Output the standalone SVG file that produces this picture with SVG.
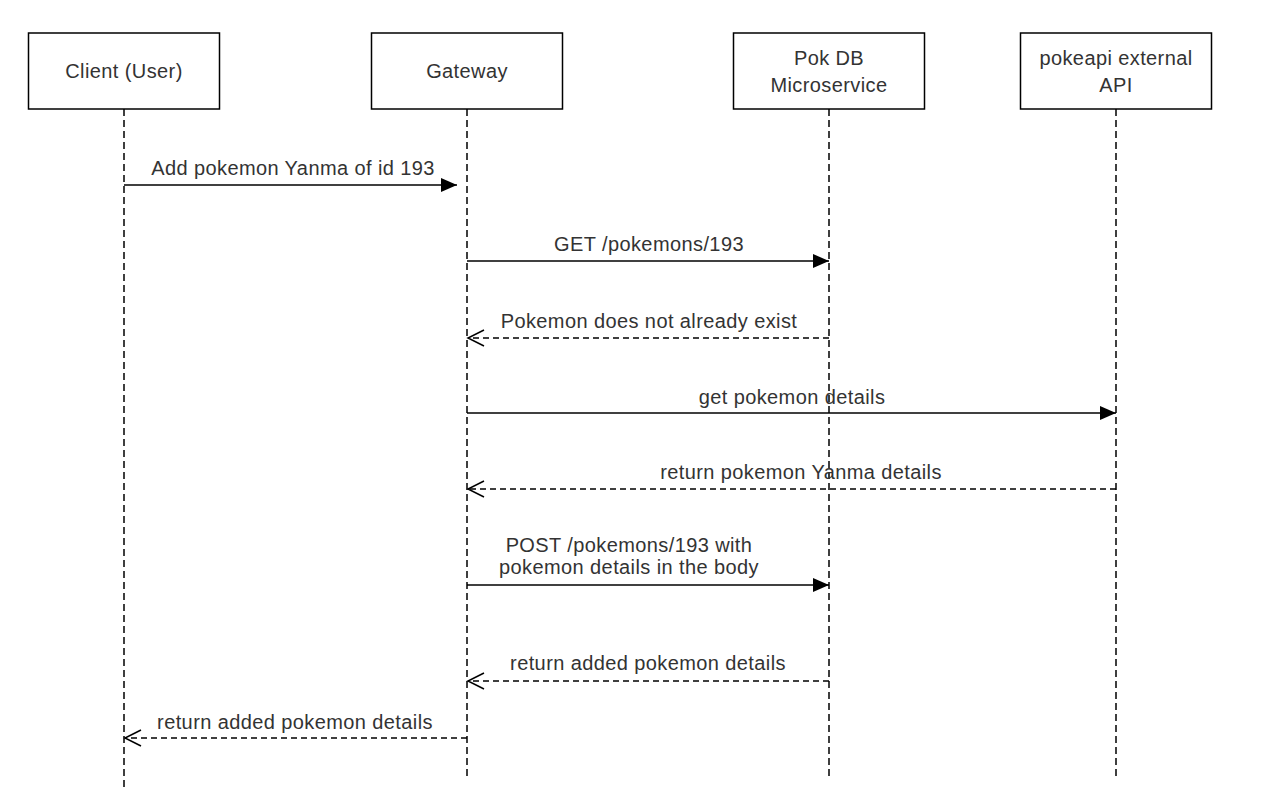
<svg xmlns="http://www.w3.org/2000/svg" width="1264" height="812" viewBox="0 0 1264 812">
  <defs>
    <style>
      .box { fill: #ffffff; stroke: #000000; stroke-width: 1.5; }
      .life { stroke: #000000; stroke-width: 1.5; stroke-dasharray: 7 4; fill: none; }
      .msg { stroke: #000000; stroke-width: 1.5; fill: none; }
      .ret { stroke: #000000; stroke-width: 1.5; fill: none; stroke-dasharray: 6 4; }
      .lbl { font-family: "Liberation Sans", Arial, sans-serif; font-size: 20px; fill: #333333; text-anchor: middle; letter-spacing: 0.4px; }
    </style>
    <marker id="filled" markerUnits="userSpaceOnUse" markerWidth="17" markerHeight="15" refX="16" refY="7" orient="auto" overflow="visible">
      <path d="M0,0 L16,7 L0,14 Z" fill="#000000"/>
    </marker>
    <marker id="open" markerUnits="userSpaceOnUse" markerWidth="18" markerHeight="18" refX="16" refY="8" orient="auto" overflow="visible">
      <path d="M0,0 L16,8 L0,16" fill="none" stroke="#000000" stroke-width="1.5"/>
    </marker>
  </defs>
  <rect width="1264" height="812" fill="#ffffff"/>

  <g id="client">
    <line class="life" x1="124" y1="109" x2="124" y2="790"/>
    <rect class="box" x="28.5" y="33" width="191" height="76"/>
    <text class="lbl" x="124" y="78">Client (User)</text>
  </g>
  <g id="gateway">
    <line class="life" x1="467" y1="109" x2="467" y2="776"/>
    <rect class="box" x="371.5" y="33" width="191" height="76"/>
    <text class="lbl" x="467" y="78">Gateway</text>
  </g>
  <g id="pokdb">
    <line class="life" x1="829" y1="109" x2="829" y2="776"/>
    <rect class="box" x="733.5" y="33" width="191" height="76"/>
    <text class="lbl" x="829" y="65">Pok DB</text>
    <text class="lbl" x="829" y="92">Microservice</text>
  </g>
  <g id="pokeapi">
    <line class="life" x1="1116" y1="109" x2="1116" y2="776"/>
    <rect class="box" x="1020.5" y="33" width="191" height="76"/>
    <text class="lbl" x="1116" y="65">pokeapi external</text>
    <text class="lbl" x="1116" y="92">API</text>
  </g>

  <g id="connectors">
    <line class="msg" x1="124" y1="185" x2="457" y2="185" marker-end="url(#filled)"/>
    <text class="lbl" x="293" y="175">Add pokemon Yanma of id 193</text>

    <line class="msg" x1="467" y1="261" x2="829" y2="261" marker-end="url(#filled)"/>
    <text class="lbl" x="649" y="251">GET /pokemons/193</text>

    <line class="ret" x1="829" y1="338" x2="468" y2="338" marker-end="url(#open)"/>
    <text class="lbl" x="649" y="328">Pokemon does not already exist</text>

    <line class="msg" x1="467" y1="413" x2="1116" y2="413" marker-end="url(#filled)"/>
    <text class="lbl" x="792" y="404">get pokemon details</text>

    <line class="ret" x1="1116" y1="489" x2="468" y2="489" marker-end="url(#open)"/>
    <text class="lbl" x="801" y="479">return pokemon Yanma details</text>

    <line class="msg" x1="467" y1="585" x2="829" y2="585" marker-end="url(#filled)"/>
    <text class="lbl" x="629" y="552">POST /pokemons/193 with</text>
    <text class="lbl" x="629" y="574">pokemon details in the body</text>

    <line class="ret" x1="829" y1="681" x2="468" y2="681" marker-end="url(#open)"/>
    <text class="lbl" x="648" y="670">return added pokemon details</text>

    <line class="ret" x1="467" y1="738" x2="125" y2="738" marker-end="url(#open)"/>
    <text class="lbl" x="295" y="729">return added pokemon details</text>
  </g>
</svg>
